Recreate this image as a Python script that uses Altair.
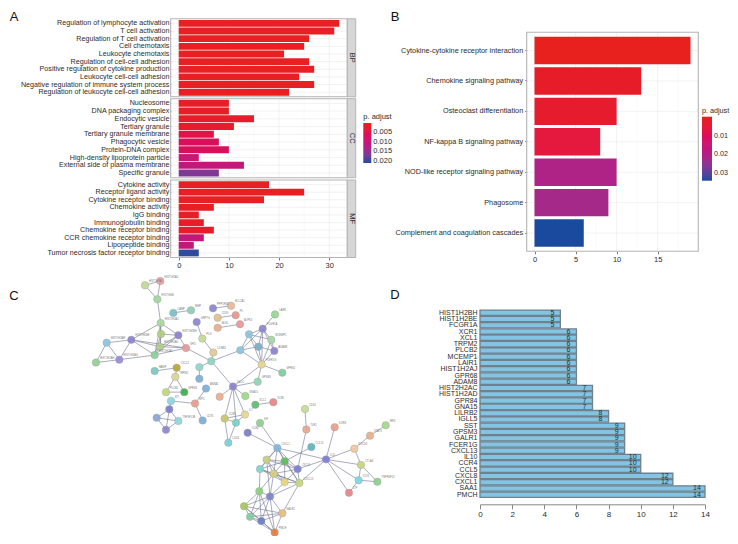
import altair as alt
import pandas as pd

# ---------- data ----------
bp_terms = ["Regulation of lymphocyte activation", "T cell activation", "Regulation of T cell activation",
            "Cell chemotaxis", "Leukocyte chemotaxis", "Regulation of cell-cell adhesion",
            "Positive regulation of cytokine production", "Leukocyte cell-cell adhesion",
            "Negative regulation of immune system process", "Regulation of leukocyte cell-cell adhesion"]
bp_counts = [32, 31, 26, 25, 21, 26, 27, 24, 27, 22]
bp_padj = [0.0006, 0.0006, 0.0006, 0.0006, 0.0006, 0.0006, 0.0006, 0.0006, 0.0006, 0.0006]
cc_terms = ["Nucleosome", "DNA packaging complex", "Endocytic vesicle", "Tertiary granule",
            "Tertiary granule membrane", "Phagocytic vesicle", "Protein-DNA complex",
            "High-density lipoprotein particle", "External side of plasma membrane", "Specific granule"]
cc_counts = [10, 10, 15, 11, 7, 8, 10, 4, 13, 8]
cc_padj = [0.001, 0.001, 0.0015, 0.002, 0.005, 0.0065, 0.0065, 0.0095, 0.0105, 0.0165]
mf_terms = ["Cytokine activity", "Receptor ligand activity", "Cytokine receptor binding", "Chemokine activity",
            "IgG binding", "Immunoglobulin binding", "Chemokine receptor binding", "CCR chemokine receptor binding",
            "Lipopeptide binding", "Tumor necrosis factor receptor binding"]
mf_counts = [18, 25, 17, 7, 4, 5, 7, 5, 3, 4]
mf_padj = [0.0006, 0.0006, 0.0006, 0.001, 0.0012, 0.0012, 0.0015, 0.0105, 0.0105, 0.0205]

kegg_terms = ["Cytokine-cytokine receptor interaction", "Chemokine signaling pathway", "Osteoclast differentiation",
              "NF-kappa B signaling pathway", "NOD-like receptor signaling pathway", "Phagosome",
              "Complement and coagulation cascades"]
kegg_counts = [19, 13, 10, 8, 10, 9, 6]
kegg_padj = [0.0003, 0.002, 0.003, 0.006, 0.021, 0.0225, 0.034]

genes = ["HIST1H2BH", "HIST1H2BE", "FCGR1A", "XCR1", "XCL1", "TRPM2", "PLCB2", "MCEMP1", "LAIR1", "HIST1H2AJ",
         "GPR68", "ADAM8", "HIST2H2AC", "HIST1H2AD", "GPR84", "GNA15", "LILRB2", "IGLL5", "SST", "GPSM3",
         "GALR1", "FCER1G", "CXCL13", "IL10", "CCR4", "CCL5", "CXCL8", "CXCL1", "SAA1", "PMCH"]
gene_degree = [5, 5, 5, 6, 6, 6, 6, 6, 6, 6, 6, 6, 7, 7, 7, 7, 8, 8, 9, 9, 9, 9, 9, 10, 10, 10, 12, 12, 14, 14]

# network (units: a 1020 x 822 drawing)
node_x = [255, 301, 292, 302, 303, 355, 300, 378, 284, 214, 140, 178, 108, 340, 393, 459, 513, 473, 527, 473, 540, 410,
          427, 460, 454, 418, 418, 541, 567, 608, 645, 634, 595, 643, 605, 667, 593, 519, 479, 556, 555, 494, 528, 505,
          284, 350, 346, 318, 373, 438, 405, 333, 328, 290, 355, 318, 428, 586, 640, 600, 563, 652, 735, 739, 824, 754,
          798, 883, 930, 977, 903, 896, 952, 867, 620, 674, 600, 641, 713, 674, 718, 598, 630, 552, 667, 570, 604, 644]
node_y = [47, 34, 90, 163, 197, 201, 236, 240, 262, 215, 224, 276, 285, 132, 124, 118, 110, 147, 139, 178, 167, 160,
          211, 254, 281, 299, 335, 247, 198, 181, 137, 215, 236, 249, 291, 316, 344, 359, 390, 388, 445, 457, 470, 532,
          311, 301, 329, 376, 376, 365, 411, 403, 429, 455, 465, 492, 463, 415, 407, 471, 501, 548, 428, 491, 484, 545,
          583, 550, 510, 478, 600, 647, 652, 686, 584, 589, 613, 627, 613, 653, 656, 681, 697, 727, 749, 760, 773, 808]
node_color = ["#c5d99a", "#e8a0a0", "#a5d6a0", "#a9d8a0", "#b0d080", "#8f85d0", "#b0d090", "#e79a9a", "#90cfa0", "#8f85d0",
              "#8fc5e0", "#9a8fd8", "#98d098", "#7fc0c8", "#90d0b8", "#8f88d0", "#ebbb98", "#e3c090", "#e89a90", "#e8b090",
              "#e89a9a", "#8f88d0", "#c5dc98", "#e3cc98", "#90d8c0", "#90d8c8", "#80b0d8", "#8fc5e0", "#8fc5e0", "#8f88d0",
              "#98d898", "#a5daa5", "#80aec8", "#8f85d0", "#e8d890", "#80d0a0", "#90d8b0", "#8f85d0", "#e8b090", "#a0d890",
              "#e8d898", "#c8c870", "#80d0c8", "#80d0d8", "#80c8c0", "#b8a840", "#d8d898", "#c0d880", "#40b050", "#80b0e0",
              "#e8a090", "#90d8e0", "#8080c8", "#90a8d8", "#90d8e0", "#9088d0", "#80b0d8", "#60c070", "#e88888", "#90d090",
              "#8080c8", "#80b8e0", "#c8dc98", "#e8a890", "#e8a090", "#60b8c0", "#8080d8", "#f0c8a0", "#e8b090", "#a8d890",
              "#c8d880", "#80d8e0", "#90d090", "#e88888", "#c8d080", "#60c060", "#80d8d0", "#d8d080", "#8080d8", "#e8d880",
              "#c8d880", "#90d080", "#8088d0", "#a8c860", "#e8c080", "#80d0a0", "#7080c8", "#e88040"]
node_label = ["HIST1H3A", "HIST1H2AJ", "HIST1H4B", "HIST2H2AC", "", "HIST1H2BH", "HIST1H2AD", "SPI5", "HIST1H2AC", "HIST1H2BE",
              "HIST1H2AM", "HIST1H2AG", "HIST1H2AH", "CAMP", "MMP", "PPP1R3D", "BCL2A1", "CD59", "F5", "MLKL",
              "ALPK3", "GNPTG", "PLG", "LILRB2", "", "", "", "", "", "FCGR1A",
              "LAIR1", "MCEMP1", "", "ADAM8", "FCER1G", "GPR84", "GPSM3", "IGLL5", "", "GNA15",
              "IL7", "CCR4", "", "CD24", "HAMP", "CXCL2", "TRPM2", "PLCB2", "GPR68", "ANXA1",
              "SPI1", "KIT", "", "", "TNFSF13B", "", "CD74", "XCL1", "XCR1", "KIF",
              "CCR2", "CXCL1", "CD34", "TLR2", "IL1RN", "CCL15", "IL10", "SOCS3", "STAT3", "IRF4",
              "CTLA4", "ICOS", "TNFRSF13", "LTF", "", "", "", "", "CXCL8", "",
              "CXCL13", "", "", "", "GALR1", "", "", "PMCH"]
edge_a = [1, 1, 2, 3, 4, 4, 4, 4, 4, 5, 5, 5, 6, 6, 7, 7, 7, 8, 9, 9, 10, 10, 10, 11, 11, 12, 9, 8, 14, 16, 18, 20, 22, 23,
          24, 25, 25, 25, 26, 28, 28, 28, 28, 29, 29, 29, 29, 30, 30, 30, 30, 30, 32, 33, 33, 34, 32, 35, 35, 35, 37, 38, 38,
          38, 38, 38, 41, 42, 41, 42, 43, 45, 46, 47, 47, 48, 50, 51, 51, 52, 53, 53, 53, 54, 54, 55, 58, 60, 61, 62, 63, 64,
          65, 66, 67, 67, 67, 67, 67, 67, 68, 69, 68, 71, 71, 72, 72, 81, 85, 85, 85, 85, 85, 82, 82, 82, 82, 83, 83, 83, 83,
          84, 84, 84, 86, 86, 87, 82, 78, 80, 77, 78, 81, 75,
          62, 62, 62, 62, 62, 62, 75, 75, 75, 75, 75, 76, 76, 76, 76, 77, 77, 77, 78, 78, 78, 79, 79, 80, 76]
edge_b = [3, 2, 3, 4, 5, 6, 7, 10, 9, 6, 7, 9, 7, 8, 8, 9, 10, 9, 10, 12, 11, 12, 8, 12, 13, 13, 6, 25, 15, 17, 19, 21, 23, 24,
          25, 28, 26, 38, 27, 29, 33, 35, 30, 30, 33, 35, 32, 31, 32, 33, 34, 35, 35, 34, 35, 35, 34, 36, 37, 38, 38, 39, 40,
          41, 42, 43, 42, 43, 43, 44, 44, 46, 47, 48, 49, 49, 51, 52, 57, 53, 54, 55, 56, 55, 56, 56, 59, 62, 62, 67, 64, 79,
          67, 76, 68, 71, 72, 74, 79, 81, 69, 70, 71, 72, 73, 73, 74, 85, 83, 84, 86, 87, 88, 84, 86, 87, 88, 84, 86, 87, 88,
          86, 87, 88, 87, 88, 88, 83, 83, 83, 82, 82, 83, 83,
          75, 76, 77, 78, 79, 81, 76, 77, 78, 79, 80, 77, 78, 79, 81, 78, 80, 81, 79, 80, 81, 80, 81, 81, 80]

# colour ramp of the p. adjust legends, from the low end (red) to the high end (blue)
ramp_pos = [0, 0.2, 0.4, 0.55, 0.65, 0.8, 0.9, 1]
ramp_col = ["#e8211c", "#e31a41", "#d0186f", "#bb1a80", "#a82787", "#783b96", "#4f449b", "#1a4a9e"]

# ---------- helpers ----------
W, H, M = 722, 528, 8
FONT = "Liberation Sans"
GRID, FRAME, TXT = "#ececec", "#b4b4b4", "#2b2b2b"
one = pd.DataFrame({"k": [0]})


def box(x0, x1, y0, y1, fill="transparent", stroke=None, sw=1.0):
    kw = dict(fill=fill)
    if stroke:
        kw.update(stroke=stroke, strokeWidth=sw)
    return alt.Chart(one).mark_rect(**kw).encode(
        x=alt.value(x0 - M), x2=alt.value(x1 - M), y=alt.value(y0 - M), y2=alt.value(y1 - M))


def word(s, x, y, size, angle=0, align="center", color=TXT):
    return alt.Chart(pd.DataFrame({"t": [s]})).mark_text(
        font=FONT, fontSize=size, angle=angle, align=align, baseline="middle", color=color
    ).encode(x=alt.value(x - M), y=alt.value(y - M), text="t:N")


def ramp_scale(lo, hi):
    dom = [lo + t * (hi - lo) for t in ramp_pos][::-1]
    return alt.Scale(domain=dom, range=ramp_col[::-1], nice=False, zero=False)


def panel(terms, counts, padj, px, xd, top, bottom, tick_vals, minor_vals, cr, legend, with_x_axis,
          label_size, tick_size, ytick, ypad, inner=0.1, outer=0.15):
    df = pd.DataFrame({"term": terms, "n": counts, "p": padj})
    xs = alt.Scale(domain=xd, range=[px[0] - M, px[1] - M], nice=False, zero=False)
    ys = alt.Scale(domain=terms, range=[top - M, bottom - M], paddingInner=inner, paddingOuter=outer)
    layers = []
    layers.append(alt.Chart(pd.DataFrame({"v": minor_vals})).mark_rule(color="#f3f3f3", strokeWidth=0.5).encode(
        x=alt.X("v:Q", scale=xs, axis=None), y=alt.value(top - M), y2=alt.value(bottom - M)))
    layers.append(alt.Chart(pd.DataFrame({"v": tick_vals})).mark_rule(color=GRID, strokeWidth=0.7).encode(
        x=alt.X("v:Q", scale=xs, axis=None), y=alt.value(top - M), y2=alt.value(bottom - M)))
    layers.append(alt.Chart(df).mark_rule(color=GRID, strokeWidth=0.7).encode(
        y=alt.Y("term:N", scale=ys, sort=terms, axis=None), x=alt.value(px[0] - M), x2=alt.value(px[1] - M)))
    x_axis = alt.Axis(title=None, orient="bottom", offset=bottom - M - H, values=tick_vals, grid=False, domain=False,
                      tickSize=2.5, tickColor="#777777", labelFont=FONT, labelFontSize=tick_size, labelColor=TXT,
                      labelPadding=1.5, labelFlush=False, labelOverlap=False) if with_x_axis else None
    y_axis = alt.Axis(title=None, orient="left", offset=M - px[0], grid=False, domain=False, tickSize=ytick,
                      tickColor="#777777", labelFont=FONT, labelFontSize=label_size, labelColor=TXT, labelPadding=ypad,
                      labelLimit=300, labelOverlap=False)
    layers.append(alt.Chart(df).mark_bar(stroke=None).encode(
        x=alt.X("n:Q", scale=xs, axis=x_axis),
        y=alt.Y("term:N", scale=ys, sort=terms, axis=y_axis),
        color=alt.Color("p:Q", scale=ramp_scale(*cr), legend=legend)))
    layers.append(box(px[0], px[1], top, bottom, stroke=FRAME, sw=1.1))
    return layers


def p_legend(x, y, length, thick, vals, fmt, font=7.5):
    return alt.Legend(title="p. adjust", orient="none", legendX=x - M, legendY=y - M, direction="vertical",
                      gradientLength=length, gradientThickness=thick, values=vals, format=fmt,
                      titleFont=FONT, titleFontSize=font, titleFontWeight="normal", titleColor=TXT, titlePadding=3,
                      labelFont=FONT, labelFontSize=font, labelColor=TXT, labelOverlap=False, labelOffset=2,
                      gradientStrokeWidth=0)


layers = []
for s, x, y, z in [("A", 14, 17, 13), ("B", 395, 17, 13), ("C", 14, 296, 13), ("D", 395, 295, 13)]:
    layers.append(word(s, x, y, z, color="#111111"))

# ---------- A ----------
A_X = (170.7, 347.3)
A_D = [-1.6, 33.6]
A_C = (0.0, 0.0211)
A_T = [0, 10, 20, 30]
A_M = [5, 15, 25]
A_LEG = p_legend(363.3, 112.5, 40, 8, [0.005, 0.01, 0.015, 0.02], ".3f")
layers += panel(bp_terms, bp_counts, bp_padj, A_X, A_D, 18.8, 96.8, A_T, A_M, A_C, None, False, 7.15, 7.5, 1.2, 0.6)
layers += panel(cc_terms, cc_counts, cc_padj, A_X, A_D, 98.7, 177.7, A_T, A_M, A_C, A_LEG, False, 7.15, 7.5, 1.2, 0.6)
layers += panel(mf_terms, mf_counts, mf_padj, A_X, A_D, 180, 257.5, A_T, A_M, A_C, None, True, 7.15, 7.5, 1.2, 0.6)
for s, a, b in [("BP", 18.8, 96.8), ("CC", 98.7, 177.7), ("MF", 180, 257.5)]:
    layers.append(box(A_X[1], 355.7, a, b, fill="#d6d6d6", stroke=FRAME, sw=1.0))
    layers.append(word(s, 351.7, (a + b) / 2, 7.5, angle=90))

# ---------- B ----------
layers += panel(kegg_terms, kegg_counts, kegg_padj, (526.7, 698.3), [-0.95, 19.95], 32.3, 251.3, [0, 5, 10, 15],
                [2.5, 7.5, 12.5, 17.5], (0.0, 0.034), p_legend(702, 106.5, 64, 10, [0.01, 0.02, 0.03], ".2f", 7.2),
                True, 7.3, 7.5, 2, 2)

# ---------- C: network ----------
nx = alt.Scale(domain=[0, 1020], range=[60 - M, 400 - M], nice=False, zero=False)
ny = alt.Scale(domain=[0, 822], range=[270 - M, 537 - M], nice=False, zero=False)
edges = pd.DataFrame({
    "x": [node_x[a - 1] for a in edge_a], "y": [node_y[a - 1] for a in edge_a],
    "x2": [node_x[b - 1] for b in edge_b], "y2": [node_y[b - 1] for b in edge_b]})
nodes = pd.DataFrame({"x": node_x, "y": node_y, "c": node_color, "t": node_label})
layers.append(alt.Chart(edges).mark_rule(color="#6f7390", strokeWidth=0.7, opacity=0.85).encode(
    x=alt.X("x:Q", scale=nx, axis=None), y=alt.Y("y:Q", scale=ny, axis=None), x2="x2:Q", y2="y2:Q"))
layers.append(alt.Chart(nodes).mark_circle(size=56, opacity=0.95, stroke="#9a9a9a", strokeWidth=0.4).encode(
    x=alt.X("x:Q", scale=nx, axis=None), y=alt.Y("y:Q", scale=ny, axis=None),
    color=alt.Color("c:N", scale=None)))
layers.append(alt.Chart(nodes[nodes.t != ""]).mark_text(
    font=FONT, fontSize=2.6, align="left", baseline="middle", dx=4, dy=-4, color="#777777").encode(
    x=alt.X("x:Q", scale=nx, axis=None), y=alt.Y("y:Q", scale=ny, axis=None), text="t:N"))

# ---------- D ----------
dx = alt.Scale(domain=[0, 14], range=[480 - M, 705 - M], nice=False, zero=False)
dy = alt.Scale(domain=genes, range=[309.6 - M, 497.9 - M], paddingInner=0.15, paddingOuter=0.075)
ddf = pd.DataFrame({"g": genes, "v": gene_degree})
D_AX_Y = 504.3
layers.append(alt.Chart(ddf).mark_bar(color="#82c4e2", stroke="#70808c", strokeWidth=1.3).encode(
    x=alt.X("v:Q", scale=dx, axis=alt.Axis(
        title=None, orient="bottom", offset=D_AX_Y - M - H, values=[0, 2, 4, 6, 8, 10, 12, 14], grid=False,
        domainColor="#888888", tickColor="#888888", tickSize=4.5, labelFont=FONT, labelFontSize=8, labelColor=TXT,
        labelPadding=2, labelFlush=False, labelOverlap=False)),
    y=alt.Y("g:N", scale=dy, sort=genes, axis=alt.Axis(
        title=None, orient="left", offset=M - 480, grid=False, domain=False, ticks=False, labelFont=FONT,
        labelFontSize=7, labelColor=TXT, labelPadding=3, labelOverlap=False, labelLimit=200))))
layers.append(alt.Chart(ddf).mark_text(font=FONT, fontSize=7, dx=-8, color="#1d2f3a", baseline="middle").encode(
    x=alt.X("v:Q", scale=dx, axis=None), y=alt.Y("g:N", scale=dy, sort=genes, axis=None), text="v:Q"))

chart = alt.layer(*layers).resolve_scale(x="independent", y="independent", color="independent").properties(
    width=W, height=H, padding=0, autosize=alt.AutoSizeParams(type="none"),
    background="white").configure_view(stroke=None)

chart.save("out.html", embed_options={"renderer": "svg", "actions": False})
